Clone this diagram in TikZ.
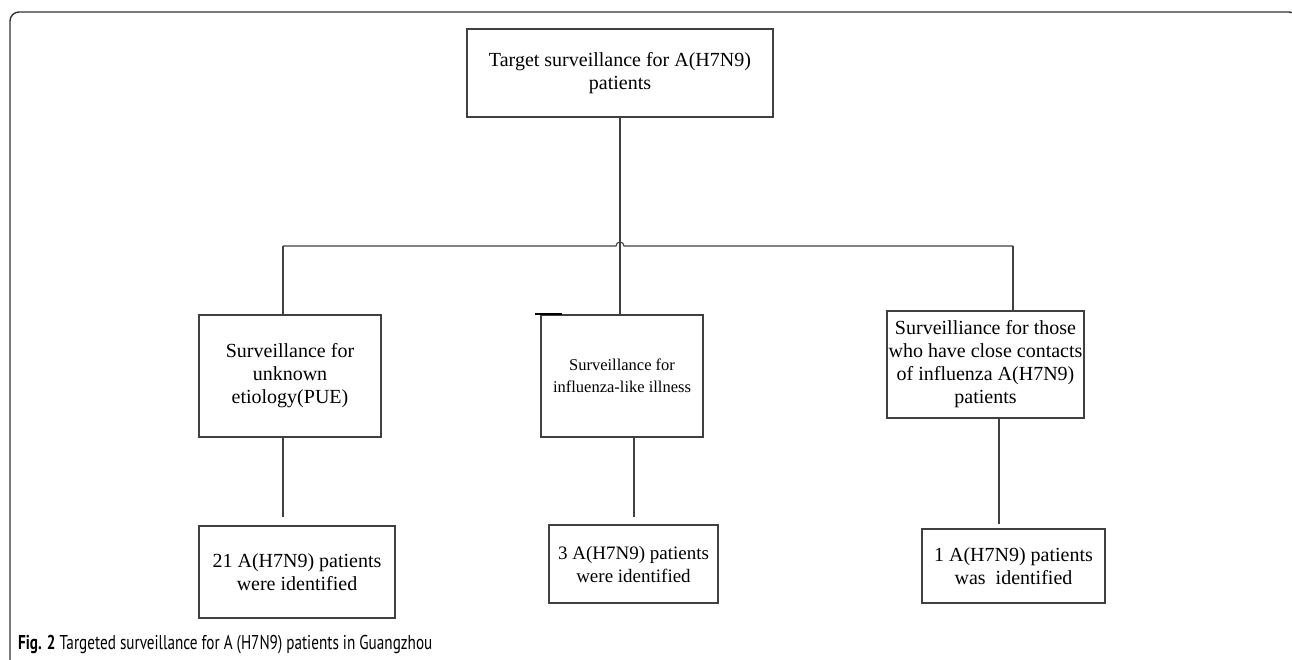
\documentclass[tikz,border=0pt]{standalone}
\usepackage{fontspec}
\setmainfont{Liberation Serif}
\newfontfamily\capfont{PT Sans}
\tikzset{
  box/.style={draw=black!75, line width=1.3pt, align=center, inner sep=0pt, font=\fontsize{20}{23}\selectfont},
  wire/.style={draw=black!75, line width=1.1pt},
}
\begin{document}
\begin{tikzpicture}[x=1pt, y=-1pt]
\useasboundingbox (0,0) rectangle (1292,660);

\draw[black!80, line width=1.4pt, rounded corners=9pt] (10,664) -- (10,12) -- (1298,12) -- (1298,664); % frame

\node[box, minimum width=306pt, minimum height=88pt] (target) at (620,73) {Target surveillance for A(H7N9)\\patients}; % top
\node[box, minimum width=182pt, minimum height=122pt] (pue) at (290,376) {Surveillance for\\unknown\\etiology(PUE)}; % left
\node[box, minimum width=162pt, minimum height=122pt, font=\fontsize{16.5}{22}\selectfont] (ili) at (622,376) {Surveillance for\\influenza-like illness}; % middle
\node[box, minimum width=197pt, minimum height=107pt] (contact) at (985.5,364.5) {Surveilliance for those\\who have close contacts\\of influenza A(H7N9)\\patients}; % right
\node[box, minimum width=196pt, minimum height=92pt] (res1) at (297,572) {21 A(H7N9) patients\\were identified}; % result left
\node[box, minimum width=169pt, minimum height=78pt, font=\fontsize{19}{23}\selectfont] (res2) at (633.5,564) {3 A(H7N9) patients\\were identified}; % result middle
\node[box, minimum width=183pt, minimum height=74pt] (res3) at (1013.5,566) {1 A(H7N9) patients\\was~ identified}; % result right

\coordinate (hubL) at (283,246);
\coordinate (hubR) at (1013,246);

\draw[wire] (target.south) -- (target.south |- ili.north); % stem
\draw[wire] (hubL) -- ([xshift=-4pt]target.south |- hubL) arc (180:0:4pt) -- (hubR); % bar
\draw[wire] (hubL) -- (hubL |- pue.north); % to left
\draw[wire] (hubR) -- (hubR |- contact.north); % to right
\draw[black, line width=2pt] ([xshift=-5pt]ili.north west) -- ([xshift=22pt]ili.north west); % tick

\draw[wire, shorten >=8pt] ([xshift=-7pt]pue.south) -- ([xshift=-7pt]pue.south |- res1.north); % left down
\draw[wire, shorten >=7pt] ([xshift=12pt]ili.south) -- ([xshift=12pt]ili.south |- res2.north); % middle down
\draw[wire, shorten >=4pt] ([xshift=13.5pt]contact.south) -- ([xshift=13.5pt]contact.south |- res3.north); % right down

\node[anchor=west, inner sep=0pt, xscale=0.76, font=\capfont\fontsize{20}{24}\selectfont] (caption) at (18,645) {\textbf{Fig. 2} Targeted surveillance for A (H7N9) patients in Guangzhou}; % caption

\end{tikzpicture}
\end{document}
